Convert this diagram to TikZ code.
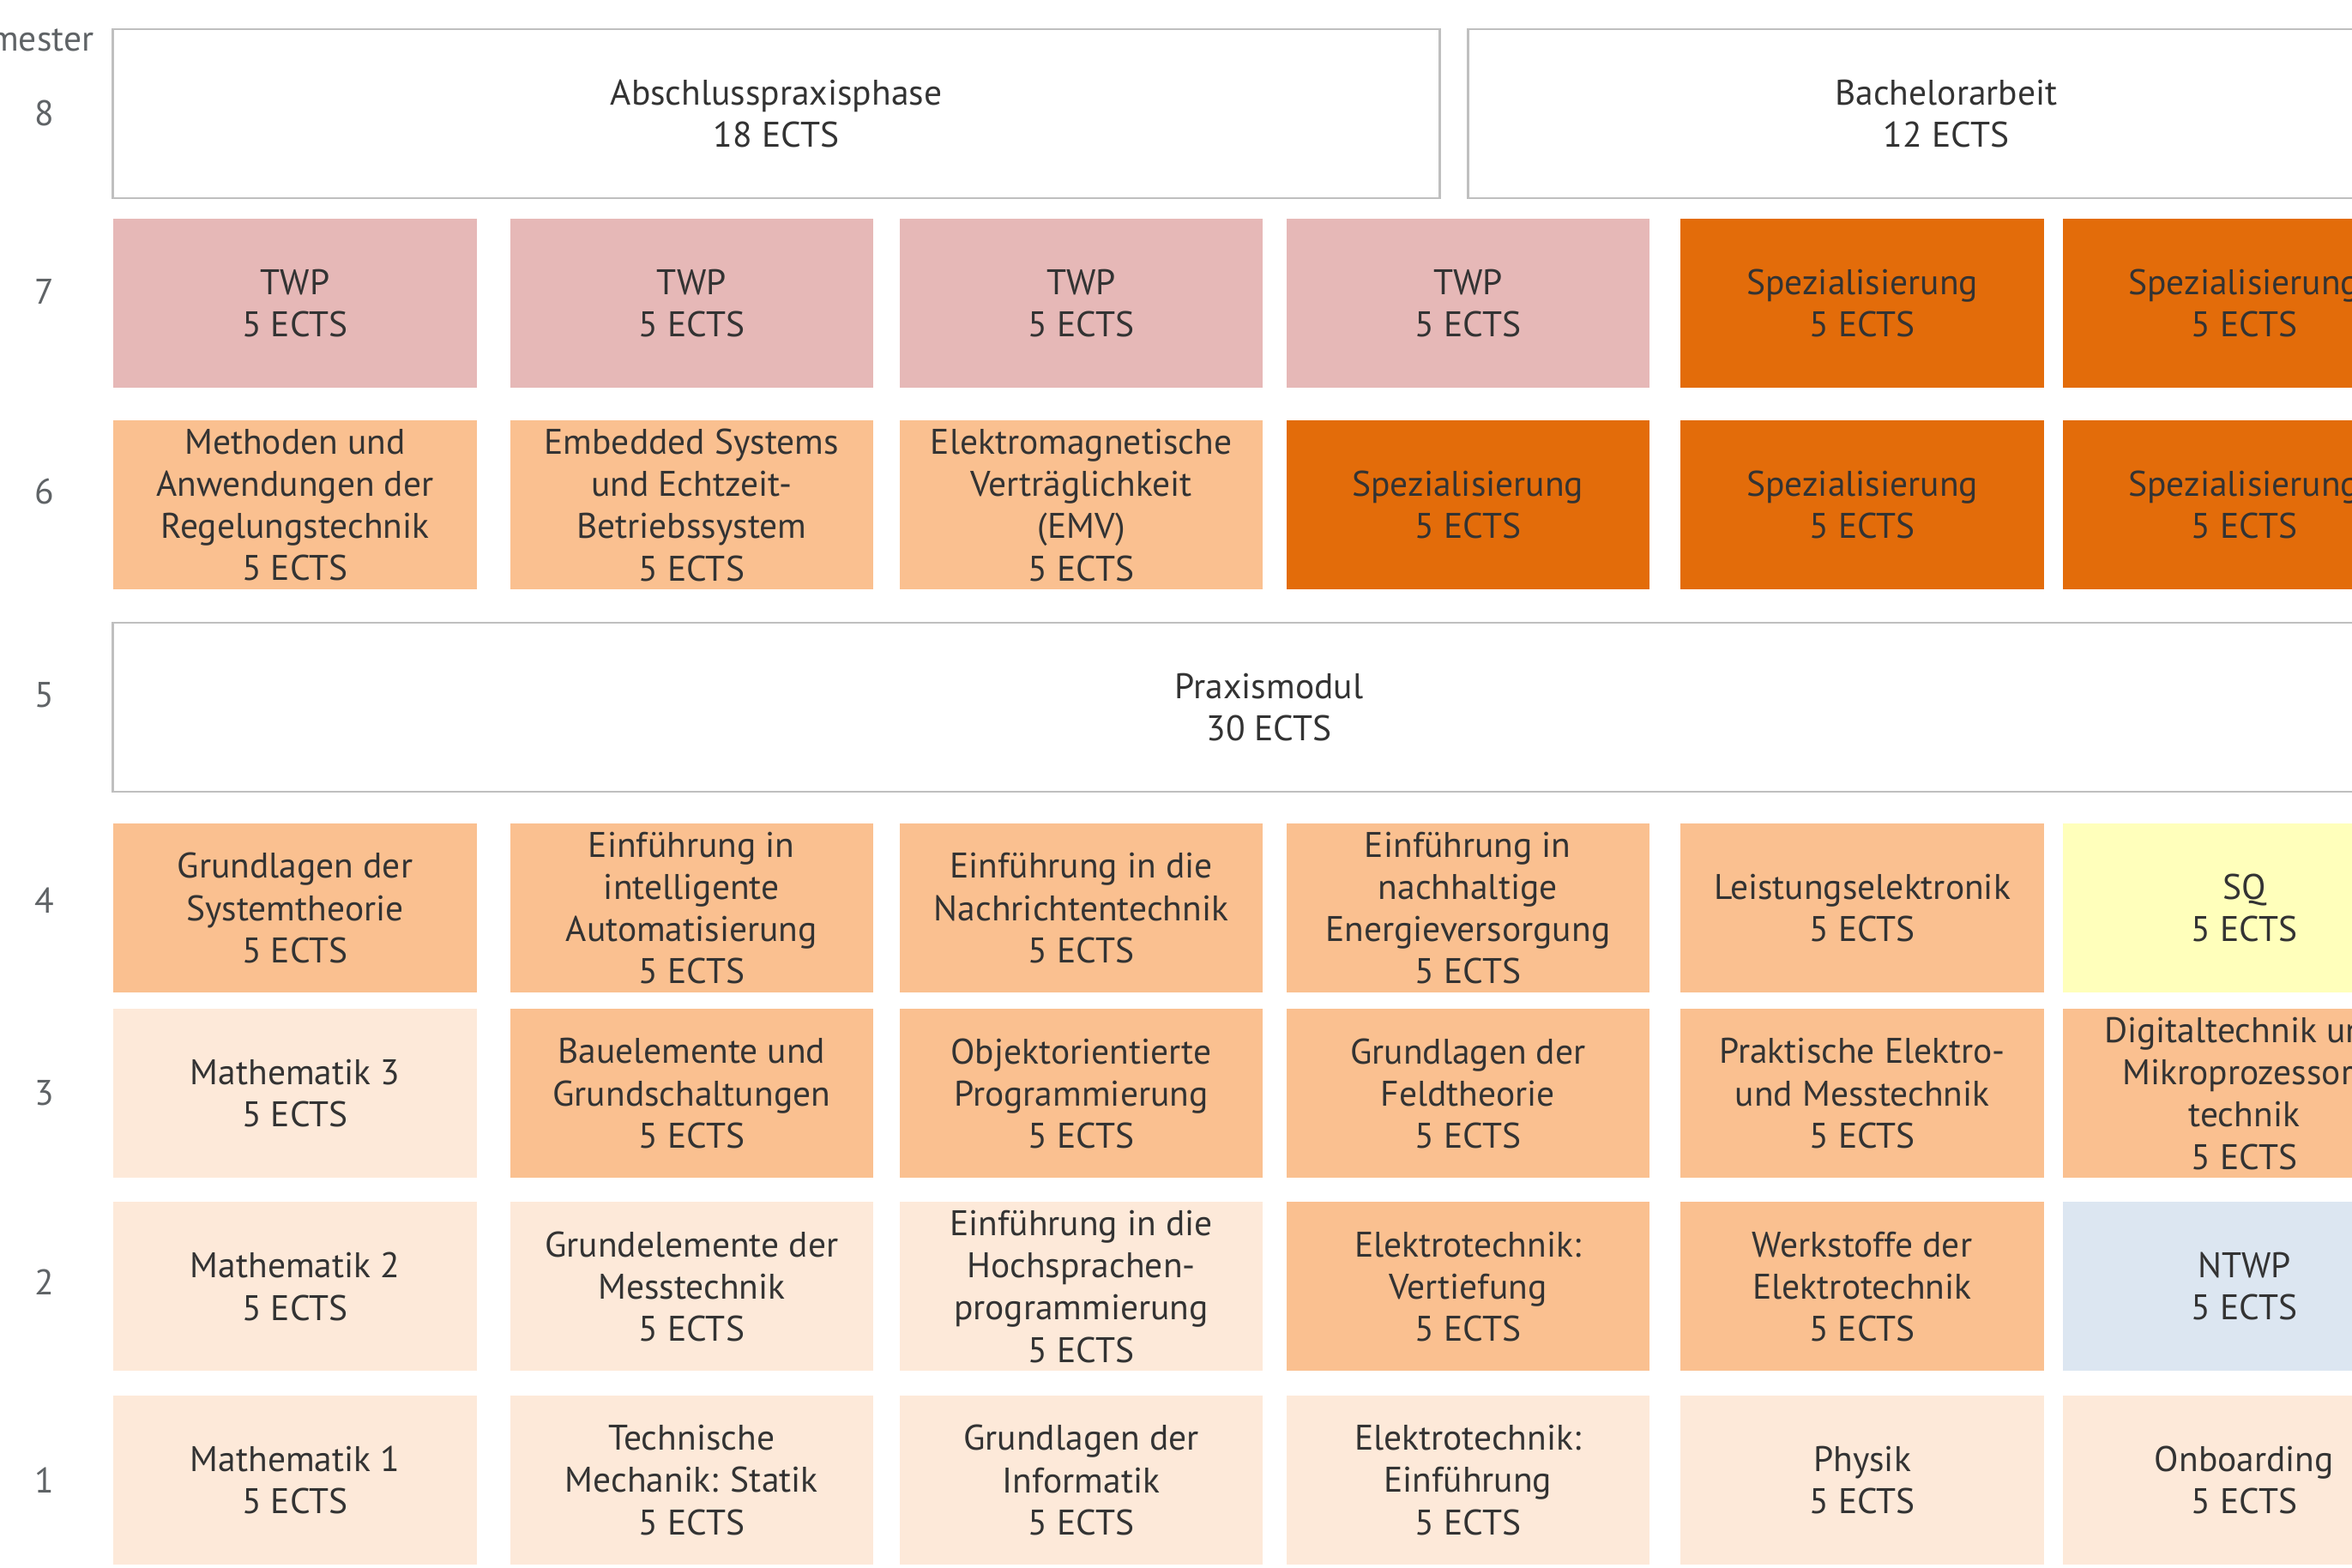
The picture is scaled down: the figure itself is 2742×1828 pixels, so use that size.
\documentclass[tikz,border=0pt]{standalone}
\usepackage{fontspec}
\setmainfont{PT Sans}
\usepackage[dvipsnames]{xcolor}

\definecolor{peach}{HTML}{FDE9D9}
\definecolor{apricot}{HTML}{FAC090}
\definecolor{spezorange}{HTML}{E36C0A}
\definecolor{rose}{HTML}{E6B8B7}
\definecolor{paleyellow}{HTML}{FFFFBB}
\definecolor{paleblue}{HTML}{DCE6F1}
\definecolor{framegray}{HTML}{BFBFBF}
\definecolor{labelgray}{HTML}{5F6366}
\definecolor{textgray}{HTML}{333333}

\begin{document}
\begin{tikzpicture}[x=0.01cm,y=-0.01cm,node distance=4.542cm,
    module/.style={rectangle,inner sep=0pt,minimum width=4.23cm,minimum height=1.97cm,align=center,text=textgray,font=\fontsize{11.8}{14}\selectfont},
    basic node/.style={module,fill=peach},
    core node/.style={module,fill=apricot},
    spec node/.style={module,fill=spezorange},
    twp node/.style={module,fill=rose},
    sq node/.style={module,fill=paleyellow},
    ntwp node/.style={module,fill=paleblue},
    wide node/.style={module,draw=framegray,line width=0.7pt,fill=white,minimum height=1.97cm},
    sem node/.style={text=labelgray,font=\fontsize{11.8}{14}\selectfont},
    col b/.style={node distance=4.62cm},
    col c/.style={node distance=4.54cm},
    col d/.style={node distance=4.505cm},
    col e/.style={node distance=4.595cm},
    col f/.style={node distance=4.45cm}]
    \path[use as bounding box,fill=white] (0,0) rectangle (2742,1828);
    \clip (0,0) rectangle (2742,1828);

    % Semester 1
    \node[basic node] (s1a) at (344,1725.5) {Mathematik 1\\5 ECTS};
    \node[basic node,col b] (s1b) [right of=s1a] {Technische\\Mechanik: Statik\\5 ECTS};
    \node[basic node,col c] (s1c) [right of=s1b] {Grundlagen der\\Informatik\\5 ECTS};
    \node[basic node,col d] (s1d) [right of=s1c] {Elektrotechnik:\\Einführung\\5 ECTS};
    \node[basic node,col e] (s1e) [right of=s1d] {Physik\\5 ECTS};
    \node[basic node,col f] (s1f) [right of=s1e] {Onboarding\\5 ECTS};

    % Semester 2
    \node[basic node] (s2a) [node distance=2.255cm,above of=s1a] {Mathematik 2\\5 ECTS};
    \node[basic node,col b] (s2b) [right of=s2a] {Grundelemente der\\Messtechnik\\5 ECTS};
    \node[basic node,col c] (s2c) [right of=s2b] {Einführung in die\\Hochsprachen-\\programmierung\\5 ECTS};
    \node[core node,col d] (s2d) [right of=s2c] {Elektrotechnik:\\Vertiefung\\5 ECTS};
    \node[core node,col e] (s2e) [right of=s2d] {Werkstoffe der\\Elektrotechnik\\5 ECTS};
    \node[ntwp node,col f] (s2f) [right of=s2e] {NTWP\\5 ECTS};

    % Semester 3
    \node[basic node] (s3a) [node distance=2.25cm,above of=s2a] {Mathematik 3\\5 ECTS};
    \node[core node,col b] (s3b) [right of=s3a] {Bauelemente und\\Grundschaltungen\\5 ECTS};
    \node[core node,col c] (s3c) [right of=s3b] {Objektorientierte\\Programmierung\\5 ECTS};
    \node[core node,col d] (s3d) [right of=s3c] {Grundlagen der\\Feldtheorie\\5 ECTS};
    \node[core node,col e] (s3e) [right of=s3d] {Praktische Elektro-\\und Messtechnik\\5 ECTS};
    \node[core node,col f] (s3f) [right of=s3e] {Digitaltechnik und\\Mikroprozessor-\\technik\\5 ECTS};

    % Semester 4
    \node[core node] (s4a) [node distance=2.16cm,above of=s3a] {Grundlagen der\\Systemtheorie\\5 ECTS};
    \node[core node,col b] (s4b) [right of=s4a] {Einführung in\\intelligente\\Automatisierung\\5 ECTS};
    \node[core node,col c] (s4c) [right of=s4b] {Einführung in die\\Nachrichtentechnik\\5 ECTS};
    \node[core node,col d] (s4d) [right of=s4c] {Einführung in\\nachhaltige\\Energieversorgung\\5 ECTS};
    \node[core node,col e] (s4e) [right of=s4d] {Leistungselektronik\\5 ECTS};
    \node[sq node,col f] (s4f) [right of=s4e] {SQ\\5 ECTS};

    % Semester 5
    \node[wide node,minimum width=26.94cm] (s5) at (1479.5,824.5) {Praxismodul\\30 ECTS};

    % Semester 6
    \node[core node] (s6a) [node distance=4.695cm,above of=s4a] {Methoden und\\Anwendungen der\\Regelungstechnik\\5 ECTS};
    \node[core node,col b] (s6b) [right of=s6a] {Embedded Systems\\und Echtzeit-\\Betriebssystem\\5 ECTS};
    \node[core node,col c] (s6c) [right of=s6b] {Elektromagnetische\\Verträglichkeit\\(EMV)\\5 ECTS};
    \node[spec node,col d] (s6d) [right of=s6c] {Spezialisierung\\5 ECTS};
    \node[spec node,col e] (s6e) [right of=s6d] {Spezialisierung\\5 ECTS};
    \node[spec node,col f] (s6f) [right of=s6e] {Spezialisierung\\5 ECTS};

    % Semester 7
    \node[twp node] (s7a) [node distance=2.355cm,above of=s6a] {TWP\\5 ECTS};
    \node[twp node,col b] (s7b) [right of=s7a] {TWP\\5 ECTS};
    \node[twp node,col c] (s7c) [right of=s7b] {TWP\\5 ECTS};
    \node[twp node,col d] (s7d) [right of=s7c] {TWP\\5 ECTS};
    \node[spec node,col e] (s7e) [right of=s7d] {Spezialisierung\\5 ECTS};
    \node[spec node,col f] (s7f) [right of=s7e] {Spezialisierung\\5 ECTS};

    % Semester 8
    \node[wide node,minimum width=15.46cm] (s8a) at (905,132.5) {Abschlusspraxisphase\\18 ECTS};
    \node[wide node,minimum width=11.145cm] (s8b) at (2269,132.5) {Bachelorarbeit\\12 ECTS};

    % Semesterzahlen
    \node[sem node,anchor=east,inner sep=0pt] (semhead) at (110,45) {Semester};
    \node[sem node] (n1) [node distance=2.92cm,left of=s1a] {1};
    \node[sem node] (n2) [node distance=2.31cm,above of=n1] {2};
    \node[sem node] (n3) [node distance=2.2cm,above of=n2] {3};
    \node[sem node] (n4) [node distance=2.24cm,above of=n3] {4};
    \node[sem node] (n5) [node distance=2.4cm,above of=n4] {5};
    \node[sem node] (n6) [node distance=2.37cm,above of=n5] {6};
    \node[sem node] (n7) [node distance=2.33cm,above of=n6] {7};
    \node[sem node] (n8) [node distance=2.08cm,above of=n7] {8};
\end{tikzpicture}
\end{document}
